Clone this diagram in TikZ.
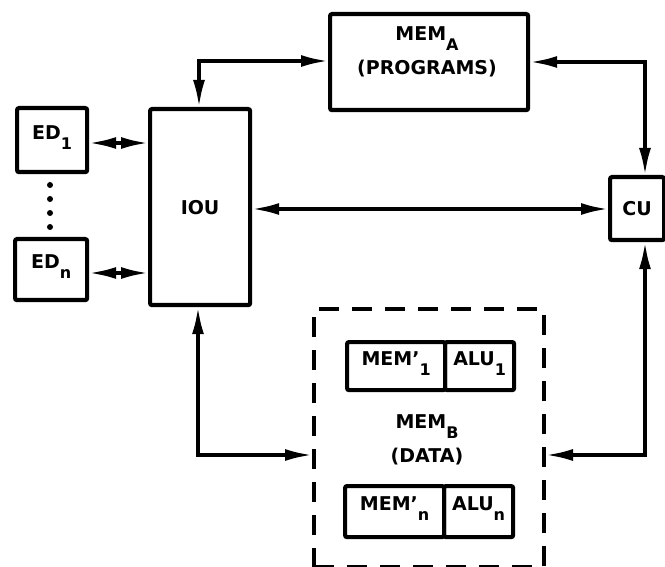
\documentclass[tikz,border=0pt]{standalone}
\usepackage{fontspec}
\setmainfont{DejaVu Sans}
\usetikzlibrary{arrows.meta}
\newcommand{\sbx}[1]{\raisebox{-10pt}{\fontsize{16}{16}\selectfont #1}}
\tikzset{
  blk/.style={draw, line width=4.2pt, rounded corners=2pt, inner sep=0pt, anchor=north west},
  lbl/.style={font=\fontsize{19}{22}\selectfont\bfseries, align=center, inner sep=0pt},
  conn/.style={line width=3.2pt, {Latex[length=27pt,width=12pt]}-{Latex[length=27pt,width=12pt]}},
  dot/.style={circle, fill, inner sep=0pt, minimum size=6pt}
}
\begin{document}
\begin{tikzpicture}[x=1pt,y=-1pt]
\useasboundingbox (0,0) rectangle (665,567);
% boxes
\node[blk, minimum width=70pt, minimum height=64pt] (ed1) at (15,106) {};
\node[lbl] (ted1) at ([yshift=3pt]ed1.center) {ED\sbx{1}};
\node[blk, minimum width=72pt, minimum height=61pt] (edn) at (13,237) {};
\node[lbl] (tedn) at ([yshift=3pt]edn.center) {ED\sbx{n}};
\node[blk, minimum width=100pt, minimum height=196pt] (iou) at (148,107) {};
\node[lbl] (tiou) at (iou.center) {IOU};
\node[blk, minimum width=198pt, minimum height=96pt] (mema) at (328,12) {};
\node[lbl, anchor=base] (tmema) at (427,41) {MEM\sbx{A}};
\node[lbl, anchor=base] (tprog) at (427,75) {(PROGRAMS)};
\node[blk, minimum width=54pt, minimum height=63pt] (cu) at (608,175) {};
\node[lbl] (tcu) at (cu.center) {CU};
% dashed box
\node[draw, line width=4pt, dash pattern=on 20pt off 13pt, inner sep=0pt, anchor=north west,
      minimum width=230pt, minimum height=258pt] (memb) at (312,307) {};
\node[lbl, anchor=base] (tmemb) at (427,428) {MEM\sbx{B}};
\node[lbl, anchor=base] (tdata) at (427,462) {(DATA)};
\node[blk, minimum width=98pt, minimum height=48pt] (m1) at (345,340) {};
\node[lbl] (tm1) at ([yshift=3pt]m1.center) {MEM'\sbx{1}};
\node[blk, minimum width=69pt, minimum height=48pt] (a1) at (443,340) {};
\node[lbl] (ta1) at ([yshift=3pt]a1.center) {ALU\sbx{1}};
\node[blk, minimum width=99pt, minimum height=51pt] (mn) at (343,484) {};
\node[lbl] (tmn) at ([yshift=3pt]mn.center) {MEM'\sbx{n}};
\node[blk, minimum width=69pt, minimum height=51pt] (an) at (442,484) {};
\node[lbl] (tan) at ([yshift=3pt]an.center) {ALU\sbx{n}};
% dots
\foreach \yy [count=\i] in {185,199,213,227} \node[dot] (d\i) at (50,\yy) {};
% connectors
\draw[conn] (ed1.east |- 0,143) -- (iou.west |- 0,143);
\draw[conn] (edn.east |- 0,273) -- (iou.west |- 0,273);
\draw[conn] (iou.east |- 0,209) -- (cu.west |- 0,209);
\coordinate (c1) at (199,61);
\coordinate (c2) at (645,62);
\coordinate (c3) at (645,455);
\coordinate (c4) at (198,455);
\draw[conn] (iou.north -| c1) -- (c1) -- (mema.west |- c1);
\draw[conn] (mema.east |- c2) -- (c2) -- (cu.north -| c2);
\draw[conn] (cu.south -| c3) -- (c3) -- (memb.east |- c3);
\draw[conn] (iou.south -| c4) -- (c4) -- (memb.west |- c4);
\end{tikzpicture}
\end{document}
